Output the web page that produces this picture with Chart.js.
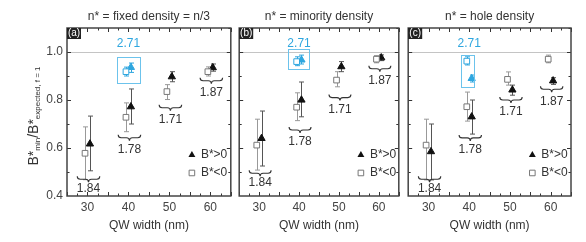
<!DOCTYPE html>
<html lang="en">
<head>
<meta charset="UTF-8">
<title>B*min / B*expected vs QW width</title>
<script src="https://cdn.jsdelivr.net/npm/chart.js"></script>
<style>
  body { margin: 0; background: #fff; }
  .wrap { position: relative; width: 586px; height: 242px; }
  canvas { position: absolute; top: 0; }
</style>
</head>
<body>
<div class="wrap">
  <canvas id="panelA" width="236" height="242" style="left:0px"></canvas>
  <canvas id="panelB" width="170" height="242" style="left:234px"></canvas>
  <canvas id="panelC" width="183" height="242" style="left:403px"></canvas>
</div>
<script>
// QW widths (nm)
const widths = [30, 40, 50, 60];
const xTicks = [30, 40, 50, 60];
const yTicks = [0.4, 0.6, 0.8, 1.0];
const titles = ['n* = fixed density = n/3', 'n* = minority density', 'n* = hole density'];
const letters = ['(a)', '(b)', '(c)'];
const braceLabels = ['1.84', '1.78', '1.71', '1.87'];
const blueLabel = '2.71';

// B*>0 (filled triangles), per panel
const posA = [0.617, 0.772, 0.897, 0.935];
const posAHi = [0.733, 0.846, 0.918, 0.950];
const posALo = [0.505, 0.700, 0.876, 0.920];
const posB = [0.640, 0.800, 0.939, 0.976];
const posBHi = [0.754, 0.875, 0.960, 0.988];
const posBLo = [0.525, 0.730, 0.918, 0.964];
const posC = [0.585, 0.730, 0.842, 0.880];
const posCHi = [0.700, 0.800, 0.862, 0.893];
const posCLo = [0.467, 0.658, 0.820, 0.865];

// B*<0 (open squares), per panel
const negA = [0.578, 0.728, 0.835, 0.918];
const negAHi = [0.688, 0.788, 0.864, 0.938];
const negALo = [0.468, 0.668, 0.802, 0.900];
const negB = [0.612, 0.770, 0.883, 0.970];
const negBHi = [0.720, 0.830, 0.918, 0.985];
const negBLo = [0.508, 0.714, 0.855, 0.955];
const negC = [0.612, 0.772, 0.886, 0.970];
const negCHi = [0.720, 0.833, 0.917, 0.987];
const negCLo = [0.467, 0.712, 0.862, 0.955];

// the blue 40 nm points (index = panel a, b, c)
const bluePos = [0.936, 0.967, 0.890];
const bluePosHi = [0.954, 0.987, 0.904];
const bluePosLo = [0.915, 0.950, 0.875];
const blueNeg = [0.918, 0.960, 0.962];
const blueNegHi = [0.937, 0.980, 0.980];
const blueNegLo = [0.900, 0.943, 0.946];
const blueBoxX0 = [37.2, 37.2, 38.0];
const blueBoxX1 = [42.8, 42.5, 41.1];
const blueBoxTop = [0.980, 1.012, 0.987];
const blueBoxBot = [0.870, 0.929, 0.854];

// brace heights under each width, per panel
const braceA = [0.470, 0.643, 0.768, 0.880];
const braceB = [0.495, 0.675, 0.810, 0.930];
const braceC = [0.470, 0.642, 0.800, 0.845];

const FONT = '"Liberation Sans", Arial, sans-serif';
const BLUE = '#2ea6df';
const OFF = 0.6;

function pts(vals, dx) {
  return widths.map((w, i) => ({ x: w + dx, y: vals[i] }));
}

function brace(ctx, x1, x2, y) {
  const h = 3, xm = (x1 + x2) / 2;
  ctx.beginPath();
  ctx.moveTo(x1, y - h);
  ctx.quadraticCurveTo(x1, y, x1 + h, y);
  ctx.lineTo(xm - h, y);
  ctx.quadraticCurveTo(xm, y, xm, y + h);
  ctx.quadraticCurveTo(xm, y, xm + h, y);
  ctx.lineTo(x2 - h, y);
  ctx.quadraticCurveTo(x2, y, x2, y - h);
  ctx.stroke();
}

function marker(ctx, style, x, y) {
  ctx.beginPath();
  if (style === 'triangle') {
    const r = 4;
    ctx.moveTo(x, y - r);
    ctx.lineTo(x + r * 0.866, y + r * 0.5);
    ctx.lineTo(x - r * 0.866, y + r * 0.5);
    ctx.closePath();
    ctx.fillStyle = '#111';
    ctx.fill();
  } else {
    ctx.rect(x - 2.8, y - 2.8, 5.6, 5.6);
    ctx.fillStyle = '#fff';
    ctx.fill();
    ctx.strokeStyle = '#777';
    ctx.lineWidth = 1;
    ctx.stroke();
  }
}

const panelPlugin = {
  id: 'panelDeco',
  beforeDatasetsDraw(chart) {
    const { ctx, chartArea: a, scales: { x, y } } = chart;
    const p = chart.options.plugins.panelDeco;
    ctx.save();
    // reference line at 1.0
    ctx.strokeStyle = '#c4c4c4';
    ctx.lineWidth = 1;
    ctx.beginPath();
    ctx.moveTo(a.left, Math.round(y.getPixelForValue(1.0)) + 0.5);
    ctx.lineTo(a.right, Math.round(y.getPixelForValue(1.0)) + 0.5);
    ctx.stroke();
    // error bars
    chart.data.datasets.forEach((ds, di) => {
      const meta = chart.getDatasetMeta(di);
      ctx.strokeStyle = ds.errColor;
      ctx.lineWidth = 1;
      meta.data.forEach((el, i) => {
        const px = Math.round(el.x) + 0.5;
        const yh = y.getPixelForValue(ds.errHi[i]);
        const yl = y.getPixelForValue(ds.errLo[i]);
        ctx.beginPath();
        ctx.moveTo(px, yh); ctx.lineTo(px, yl);
        ctx.moveTo(px - 2.5, yh); ctx.lineTo(px + 2.5, yh);
        ctx.moveTo(px - 2.5, yl); ctx.lineTo(px + 2.5, yl);
        ctx.stroke();
      });
    });
    ctx.restore();
  },
  afterDraw(chart) {
    const { ctx, chartArea: a, scales: { x, y } } = chart;
    const p = chart.options.plugins.panelDeco;
    ctx.save();

    // blue box + label
    ctx.strokeStyle = '#6cc3ec';
    ctx.lineWidth = 1;
    const bx0 = x.getPixelForValue(p.box[0]), bx1 = x.getPixelForValue(p.box[1]);
    const by0 = y.getPixelForValue(p.box[2]), by1 = y.getPixelForValue(p.box[3]);
    ctx.strokeRect(Math.round(bx0) + 0.5, Math.round(by0) + 0.5, Math.round(bx1 - bx0), Math.round(by1 - by0));
    ctx.fillStyle = BLUE;
    ctx.font = '12px ' + FONT;
    ctx.textAlign = 'center';
    ctx.textBaseline = 'middle';
    ctx.fillText(blueLabel, x.getPixelForValue(40), y.getPixelForValue(1.0) - 8);

    // braces with labels
    ctx.strokeStyle = '#333';
    ctx.lineWidth = 1.1;
    ctx.fillStyle = '#333';
    widths.forEach((w, i) => {
      const yy = y.getPixelForValue(p.braces[i]);
      brace(ctx, x.getPixelForValue(w - 2.5), x.getPixelForValue(w + 3.0), yy);
      ctx.fillText(braceLabels[i], x.getPixelForValue(w + 0.25), yy + (i === 0 ? 9 : 12));
    });

    // legend
    const lx = x.getPixelForValue(55.5);
    marker(ctx, 'triangle', lx, y.getPixelForValue(0.571));
    marker(ctx, 'rect', lx, y.getPixelForValue(0.496));
    ctx.fillStyle = '#333';
    ctx.textAlign = 'left';
    ctx.font = '12px ' + FONT;
    ctx.fillText('B*>0', lx + 9, y.getPixelForValue(0.571));
    ctx.fillText('B*<0', lx + 9, y.getPixelForValue(0.496));

    // inward ticks
    ctx.strokeStyle = '#333';
    ctx.lineWidth = 1;
    ctx.beginPath();
    for (let v = 25; v <= 65; v += 2.5) {
      const px = Math.round(x.getPixelForValue(v)) + 0.5;
      const len = v % 5 === 0 ? 4 : 2.5;
      ctx.moveTo(px, a.bottom); ctx.lineTo(px, a.bottom - len);
      ctx.moveTo(px, a.top); ctx.lineTo(px, a.top + len);
    }
    for (let k = 5; k <= 11; k++) {
      const py = Math.round(y.getPixelForValue(k / 10)) + 0.5;
      const len = k % 2 === 0 ? 4 : 2.5;
      ctx.moveTo(a.left, py); ctx.lineTo(a.left + len, py);
      ctx.moveTo(a.right, py); ctx.lineTo(a.right - len, py);
    }
    ctx.stroke();

    // frame
    ctx.strokeStyle = '#444';
    ctx.lineWidth = 1.5;
    ctx.strokeRect(a.left, a.top, a.right - a.left, a.bottom - a.top);

    // panel letter
    ctx.fillStyle = '#222';
    ctx.fillRect(a.left, a.top, 14, 11);
    ctx.fillStyle = '#fff';
    ctx.font = '10px ' + FONT;
    ctx.textAlign = 'center';
    ctx.fillText(p.letter, a.left + 7, a.top + 5.5);

    // panel title
    ctx.fillStyle = '#333';
    ctx.font = '12px ' + FONT;
    ctx.fillText(p.title, (a.left + a.right) / 2, 17);

    // x axis title
    ctx.fillText('QW width (nm)', (a.left + a.right) / 2, 226);

    // y axis title (first panel only)
    if (p.yTitle) {
      ctx.translate(34, (a.top + a.bottom) / 2 + 4);
      ctx.rotate(-Math.PI / 2);
      const parts = [
        ['B*', 14, 0], ['min', 8, 4], ['/B*', 14, 0], ['expected, f = 1', 8, 4]
      ];
      let total = 0;
      parts.forEach(pt => { ctx.font = pt[1] + 'px ' + FONT; total += ctx.measureText(pt[0]).width; });
      let cx = -total / 2;
      ctx.textAlign = 'left';
      parts.forEach(pt => {
        ctx.font = pt[1] + 'px ' + FONT;
        ctx.fillText(pt[0], cx, pt[2]);
        cx += ctx.measureText(pt[0]).width;
      });
    }
    ctx.restore();
  }
};

function makePanel(id, idx, pos, posHi, posLo, neg, negHi, negLo, braces, yw, padRight) {
  const first = idx === 0;
  new Chart(document.getElementById(id), {
    type: 'scatter',
    data: {
      datasets: [
        {
          data: pts(neg, -OFF), errHi: negHi, errLo: negLo, errColor: '#999',
          pointStyle: 'rect', pointRadius: 4, backgroundColor: '#fff', borderColor: '#777', borderWidth: 1
        },
        {
          data: pts(pos, OFF), errHi: posHi, errLo: posLo, errColor: '#555',
          pointStyle: 'triangle', pointRadius: 4.2, backgroundColor: '#111', borderColor: '#111', borderWidth: 1
        },
        {
          data: [{ x: 40 - OFF, y: blueNeg[idx] }], errHi: [blueNegHi[idx]], errLo: [blueNegLo[idx]], errColor: BLUE,
          pointStyle: 'rect', pointRadius: 4, backgroundColor: '#fff', borderColor: BLUE, borderWidth: 1
        },
        {
          data: [{ x: 40 + OFF, y: bluePos[idx] }], errHi: [bluePosHi[idx]], errLo: [bluePosLo[idx]], errColor: BLUE,
          pointStyle: 'triangle', pointRadius: 4.2, backgroundColor: BLUE, borderColor: BLUE, borderWidth: 1
        }
      ]
    },
    options: {
      responsive: false,
      animation: false,
      events: [],
      layout: { padding: { top: 28, right: padRight, left: 0, bottom: 0 } },
      plugins: {
        legend: { display: false },
        tooltip: { enabled: false },
        panelDeco: {
          title: titles[idx], letter: letters[idx], braces: braces, yTitle: first,
          box: [blueBoxX0[idx], blueBoxX1[idx], blueBoxTop[idx], blueBoxBot[idx]]
        }
      },
      scales: {
        x: {
          type: 'linear', min: 25, max: 65,
          grid: { display: false, drawTicks: false },
          border: { display: false },
          afterBuildTicks: s => { s.ticks = xTicks.map(v => ({ value: v })); },
          afterFit: s => { s.height = 46; },
          ticks: { padding: 4, color: '#444', font: { family: FONT, size: 12 } }
        },
        y: {
          type: 'linear', min: 0.4, max: 1.1,
          grid: { display: false, drawTicks: false },
          border: { display: false },
          afterBuildTicks: s => { s.ticks = yTicks.map(v => ({ value: v })); },
          afterFit: s => { s.width = yw; },
          ticks: {
            display: first, padding: 4, color: '#444',
            font: { family: FONT, size: 12 },
            callback: v => v.toFixed(1)
          }
        }
      }
    },
    plugins: [panelPlugin]
  });
}

makePanel('panelA', 0, posA, posAHi, posALo, negA, negAHi, negALo, braceA, 67, 3);
makePanel('panelB', 1, posB, posBHi, posBLo, negB, negBHi, negBLo, braceB, 2, 3);
makePanel('panelC', 2, posC, posCHi, posCLo, negC, negCHi, negCLo, braceC, 2, 15);
</script>
</body>
</html>
